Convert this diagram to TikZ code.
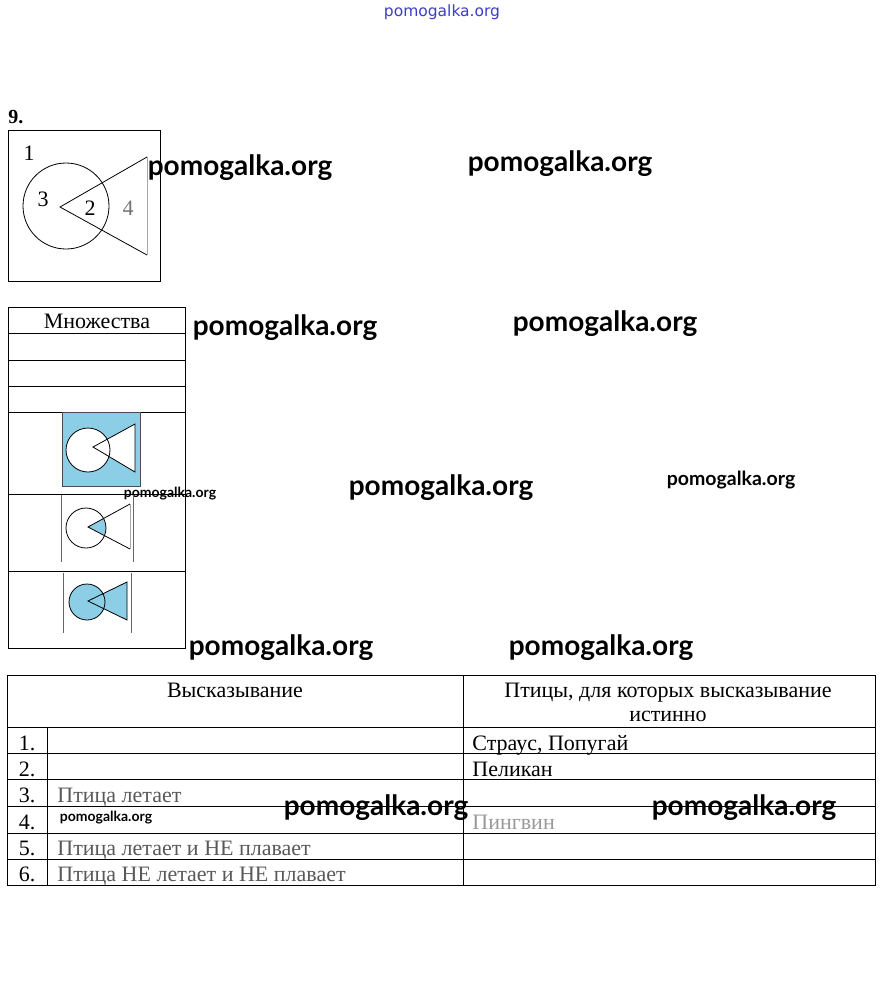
\documentclass[tikz,border=0pt]{standalone}
\usepackage{fontspec}
\setmainfont{Liberation Serif}
\newfontfamily\wmfont{Lato}
\newfontfamily\topfont{DejaVu Sans}
\definecolor{setblue}{RGB}{140,206,230}
\definecolor{wmblue}{RGB}{60,60,200}
\begin{document}
\begin{tikzpicture}[x=1pt, y=-1pt, line width=0.8pt,
  txt/.style={font=\fontsize{22}{24}\selectfont, inner sep=0pt, anchor=base west},
  head/.style={font=\fontsize{22}{24}\selectfont, inner sep=0pt, anchor=base},
  region/.style={font=\fontsize{22}{24}\selectfont, inner sep=0pt},
  wm/.style={font=\wmfont\bfseries\fontsize{28}{30}\selectfont, inner sep=0pt},
  wmsmall/.style={font=\wmfont\bfseries\fontsize{14}{16}\selectfont, inner sep=0pt},
  faded/.style={text=black!65}]
\useasboundingbox (0,0) rectangle (884,1001);

% watermarks
\node[font=\topfont\fontsize{15.5}{17}\selectfont, text=wmblue, inner sep=0pt] (wm0) at (442,12) {pomogalka.org};
\node[wm] (wm1) at (240,168) {pomogalka.org};
\node[wm] (wm2) at (560,164) {pomogalka.org};
\node[wm] (wm3) at (285,328) {pomogalka.org};
\node[wm] (wm4) at (605,324) {pomogalka.org};
\node[wm] (wm5) at (441,488) {pomogalka.org};
\node[wmsmall, font=\wmfont\bfseries\fontsize{19.5}{21}\selectfont] (wm6) at (731,480) {pomogalka.org};
\node[wmsmall] (wm7) at (170,494) {pomogalka.org};
\node[wm] (wm8) at (281,648) {pomogalka.org};
\node[wm] (wm9) at (601,648) {pomogalka.org};
\node[wm] (wm10) at (376,808) {pomogalka.org};
\node[wm] (wm11) at (744,808) {pomogalka.org};
\node[wmsmall] (wm12) at (106,818) {pomogalka.org};

% task number and Venn picture
\node[anchor=base west, inner sep=0pt, font=\bfseries\fontsize{20}{22}\selectfont] (task) at (8,123) {9.};
\draw (8,130) rectangle (160,281);
\draw (66,206) circle[radius=43pt];
\draw (147,157) -- (60,207) -- (147,255);
\draw[black!35] (147,157) -- (147,255);
\node[region] (r1) at (29,153) {1};
\node[region] (r3) at (43,199) {3};
\node[region] (r2) at (90,208) {2};
\node[region, text=black!55] (r4) at (128,208) {4};

% sets table
\draw (8,307) rectangle (185,648);
\foreach \y in {333,360,386,412,494,571}
  \draw (8,\y) -- (185,\y);
\node[head] (sets) at (97,328) {Множества};

% row: outside of both
\filldraw[fill=setblue, draw=black!70] (62,412) rectangle (140,486);
\fill[white] (88,450) circle[radius=22pt];
\fill[white] (93,447) -- (135,424) -- (135,472) -- cycle;
\draw (88,450) circle[radius=22pt];
\draw (93,447) -- (135,424) -- (135,472) -- cycle;

% row: intersection
\draw[black!60] (61,495) -- (61,562) (133,495) -- (133,562);
\begin{scope}
  \clip (86,528) circle[radius=20pt];
  \fill[setblue] (88,527) -- (130,504) -- (130,549) -- cycle;
\end{scope}
\draw (86,528) circle[radius=20pt];
\draw (130,549) -- (88,527) -- (130,504);
\draw[black!35] (130,504) -- (130,549);

% row: union
\draw[black!60] (63,573) -- (63,633) (131,573) -- (131,633);
\fill[setblue] (87,602) circle[radius=18pt];
\fill[setblue] (88,601) -- (127,582) -- (127,620) -- cycle;
\draw (87,602) circle[radius=18pt];
\draw (88,601) -- (127,582) -- (127,620) -- cycle;

% statements table
\draw (7,675) rectangle (875,885);
\draw (463,675) -- (463,885);
\draw (47,727) -- (47,885);
\foreach \y in {727,753,779,806,833,859}
  \draw (7,\y) -- (875,\y);
\node[head] (hstmt) at (235,697) {Высказывание};
\node[head] (hbirds) at (668,697) {Птицы, для которых высказывание};
\node[head] (hbirds2) at (668,721) {истинно};
\foreach \n/\y in {1/750,2/776,3/802,4/829,5/855,6/881}
  \node[head] (n\n) at (27,\y) {\n.};
\node[txt, faded] (s3) at (57,802) {Птица летает};
\node[txt, faded] (s5) at (57,855) {Птица летает и НЕ плавает};
\node[txt, faded] (s6) at (57,881) {Птица НЕ летает и НЕ плавает};
\node[txt] (b1) at (472,750) {Страус, Попугай};
\node[txt] (b2) at (472,776) {Пеликан};
\node[txt, text=black!40] (b4) at (472,829) {Пингвин};
\end{tikzpicture}
\end{document}
